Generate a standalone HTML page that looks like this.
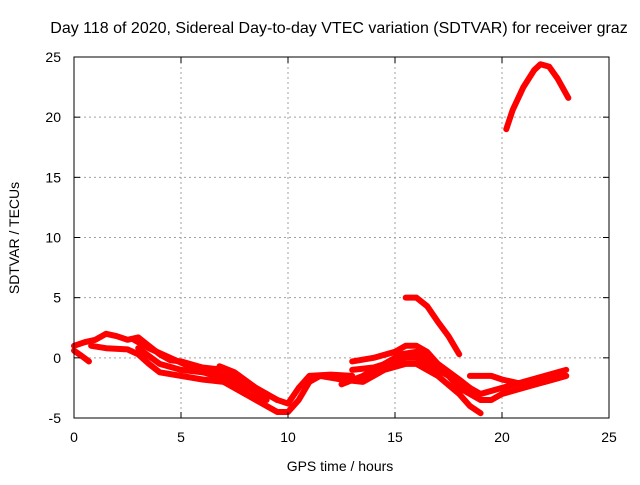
<!DOCTYPE html>
<html><head><meta charset="utf-8"><style>
body{margin:0;background:#fff;}
svg text{font-family:"Liberation Sans",sans-serif;font-size:14px;fill:#000;}
</style></head><body>
<svg id="chart" width="640" height="480">
<text x="339" y="33" text-anchor="middle" style="font-size:16px">Day 118 of 2020, Sidereal Day-to-day VTEC variation (SDTVAR) for receiver graz</text>
<g id="grid"></g><g id="series"></g><g id="axes"></g>
<text x="340" y="471" text-anchor="middle">GPS time / hours</text>
<text transform="translate(19,238) rotate(-90)" text-anchor="middle">SDTVAR / TECUs</text>
</svg>
<script>
const xTicks=[0,5,10,15,20,25];
const yTicks=[-5,0,5,10,15,20,25];
const seriesA=[[0,1.0],[0.5,1.3],[1,1.5],[1.5,2.0],[2,1.8],[2.5,1.5],[3,1.7],[3.5,1.0],[4,0.3],[4.5,-0.2],[5,-0.3],[6,-0.8],[7,-1.0],[8,-2.0],[9,-3.0],[9.5,-3.5],[10,-3.8],[10.5,-2.5],[11,-1.5],[12,-1.4],[13,-1.5]];
const seriesB=[[0.8,1.0],[1.5,0.8],[2.5,0.7],[3,0.3],[3.5,-0.5],[4,-1.2],[5,-1.5],[6,-1.8],[7,-2.0],[8,-3.0],[9,-3.5]];
const seriesC=[[0,0.6],[0.4,0.1],[0.7,-0.3]];
const seriesD=[[2.8,1.5],[3.5,0.8],[4.5,0],[5.5,-0.8],[6.5,-1.5],[7.5,-2.5],[8.5,-3.5],[9.5,-4.5],[10,-4.5],[10.5,-3.5],[11,-2],[11.5,-1.5],[12.5,-1.8],[13.5,-2.0],[14.5,-1.0],[15.5,-0.5],[16,-0.5],[17,-1.5],[18,-3.0],[18.5,-4.0],[19,-4.6]];
const seriesE=[[13,-0.3],[14,0],[15,0.5],[15.5,1.0],[16,1.0],[16.5,0.5],[17,-0.5],[17.5,-1.5],[18,-2.5],[19,-3.5],[19.5,-3.5],[20,-3.0],[21,-2.5],[22,-2.0],[23,-1.5]];
const seriesF=[[13,-1.0],[14,-0.8],[15.5,0],[16,0],[17,-1.0],[18,-2.0],[19,-3.0],[20,-2.5],[21,-2.0],[22,-1.5],[23,-1.0]];
const seriesG=[[18.5,-1.5],[19.5,-1.5],[20,-1.8],[21,-2.2],[22,-2.0],[23,-1.5]];
const seriesH=[[15.5,5.0],[16,5.0],[16.5,4.3],[17,3.0],[17.5,1.8],[18,0.3]];
const seriesI=[[20.2,19],[20.5,20.6],[21,22.5],[21.5,23.9],[21.8,24.4],[22.2,24.2],[22.6,23.2],[23.1,21.6]];
const seriesJ=[[3,0.8],[4,-0.5],[5,-1.0],[6,-1.2],[7,-1.5],[8,-2.5],[9,-3.0]];
const seriesK=[[6.8,-0.7],[7.5,-1.2],[8.5,-2.5],[9.5,-3.5]];
const seriesL=[[12.5,-2.2],[13.5,-1.5],[14.5,-0.5],[15.3,0.3],[16,0.5],[17,-0.5],[18,-1.8],[18.5,-2.5]];
const allSeries=[seriesA,seriesB,seriesC,seriesD,seriesE,seriesF,seriesG,seriesH,seriesI,seriesJ,seriesK,seriesL];
const L=74,R=609,T=57,B=418;
const xs=v=>L+(v-0)/25*(R-L);
const ys=v=>B-(v+5)/30*(B-T);
const NS="http://www.w3.org/2000/svg";
function mk(t,a,p){const e=document.createElementNS(NS,t);for(const k in a)e.setAttribute(k,a[k]);p.appendChild(e);return e;}
const grid=document.getElementById('grid'),axes=document.getElementById('axes'),ser=document.getElementById('series');
xTicks.forEach(t=>{
 if(t>0&&t<25){const g=mk('line',{x1:xs(t),x2:xs(t),y1:T,y2:B,stroke:'#a0a0a0','stroke-dasharray':'2,3'},grid);
 
 }
 mk('line',{x1:xs(t),x2:xs(t),y1:B,y2:B-6,stroke:'#000'},axes);
 mk('line',{x1:xs(t),x2:xs(t),y1:T,y2:T+6,stroke:'#000'},axes);
 const tx=mk('text',{x:xs(t),y:B+24,'text-anchor':'middle'},axes);tx.textContent=t;
 
 
});
yTicks.forEach(t=>{
 if(t>-5&&t<25){const g=mk('line',{x1:L,x2:R,y1:ys(t),y2:ys(t),stroke:'#a0a0a0','stroke-dasharray':'2,3'},grid);
 
 }
 mk('line',{x1:L,x2:L+6,y1:ys(t),y2:ys(t),stroke:'#000'},axes);
 mk('line',{x1:R,x2:R-6,y1:ys(t),y2:ys(t),stroke:'#000'},axes);
 const tx=mk('text',{x:L-13,y:ys(t)+5,'text-anchor':'end'},axes);tx.textContent=t;
 
 
});
const fr=mk('rect',{x:L,y:T,width:R-L,height:B-T,fill:'none',stroke:'#000'},axes);


allSeries.forEach(s=>{
 const p=mk('polyline',{points:s.map(d=>xs(d[0])+','+ys(d[1])).join(' '),fill:'none',stroke:'#ff0000','stroke-width':6,'stroke-linejoin':'round','stroke-linecap':'round'},ser);
 
 
});
</script>
</body></html>
